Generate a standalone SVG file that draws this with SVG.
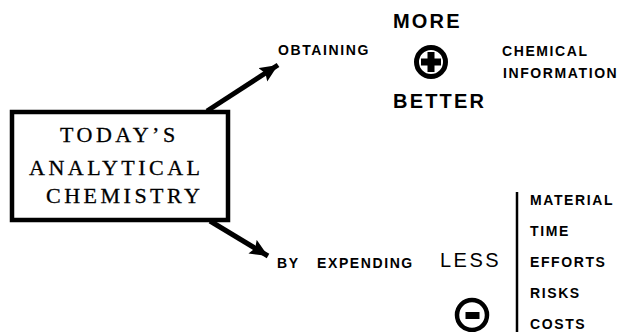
<svg xmlns="http://www.w3.org/2000/svg" width="630" height="332" viewBox="0 0 630 332">
  <style>
    .sans { font-family: "Liberation Sans", Arial, sans-serif; fill: #000; }
    .lbl { font-size: 14px; font-weight: bold; letter-spacing: 1.6px; }
    .big { font-size: 20px; font-weight: bold; letter-spacing: 2.2px; }
    .serif { font-family: "Liberation Serif", "Times New Roman", serif; font-size: 22px; letter-spacing: 3.5px; fill: #000; stroke: #000; stroke-width: 0.3; }
    .conn { stroke: #000; stroke-width: 5; fill: none; }
  </style>
  <defs>
    <marker id="head" markerUnits="userSpaceOnUse" markerWidth="20" markerHeight="18" refX="18" refY="8" orient="auto">
      <path d="M0,0 L18,8 L0,16 L3,8 Z" fill="#000"/>
    </marker>
  </defs>
  <rect width="630" height="332" fill="#fff"/>

  <!-- central box -->
  <g id="node-core">
    <rect x="12" y="112" width="216" height="108" fill="#fff" stroke="#000" stroke-width="4.5"/>
    <text class="serif" x="60" y="142">TODAY’S</text>
    <text class="serif" x="29" y="175">ANALYTICAL</text>
    <text class="serif" x="46" y="203">CHEMISTRY</text>
  </g>

  <!-- connectors -->
  <g id="connectors">
    <line class="conn" x1="207" y1="111" x2="278" y2="65" marker-end="url(#head)"/>
    <line class="conn" x1="210" y1="221" x2="268" y2="256" marker-end="url(#head)"/>
  </g>

  <!-- upper branch -->
  <g id="node-obtaining">
    <text class="sans lbl" x="278" y="55">OBTAINING</text>
  </g>
  <g id="node-more-better">
    <text class="sans big" x="393" y="28">MORE</text>
    <circle cx="431" cy="62" r="14.5" fill="none" stroke="#000" stroke-width="5"/>
    <path d="M427.5,52 h7 v6.5 h6.5 v7 h-6.5 v6.5 h-7 v-6.5 h-6.5 v-7 h6.5 Z" fill="#000"/>
    <text class="sans big" x="393" y="108">BETTER</text>
  </g>
  <g id="node-information">
    <text class="sans lbl" x="502" y="56">CHEMICAL</text>
    <text class="sans lbl" x="503" y="78">INFORMATION</text>
  </g>

  <!-- lower branch -->
  <g id="node-expending">
    <text class="sans lbl" x="277" y="268">BY</text>
    <text class="sans lbl" x="317" y="268">EXPENDING</text>
  </g>
  <g id="node-less">
    <text class="sans" x="440" y="267" font-size="20" letter-spacing="2.5">LESS</text>
    <circle cx="472" cy="315" r="15" fill="none" stroke="#000" stroke-width="4.5"/>
    <rect x="465.5" y="312" width="14" height="7" fill="#000"/>
  </g>
  <g id="node-resources">
    <line x1="517" y1="192" x2="517" y2="332" stroke="#000" stroke-width="2.5"/>
    <text class="sans lbl" x="530" y="205">MATERIAL</text>
    <text class="sans lbl" x="530" y="236">TIME</text>
    <text class="sans lbl" x="530" y="267">EFFORTS</text>
    <text class="sans lbl" x="530" y="298">RISKS</text>
    <text class="sans lbl" x="530" y="329">COSTS</text>
  </g>
</svg>
